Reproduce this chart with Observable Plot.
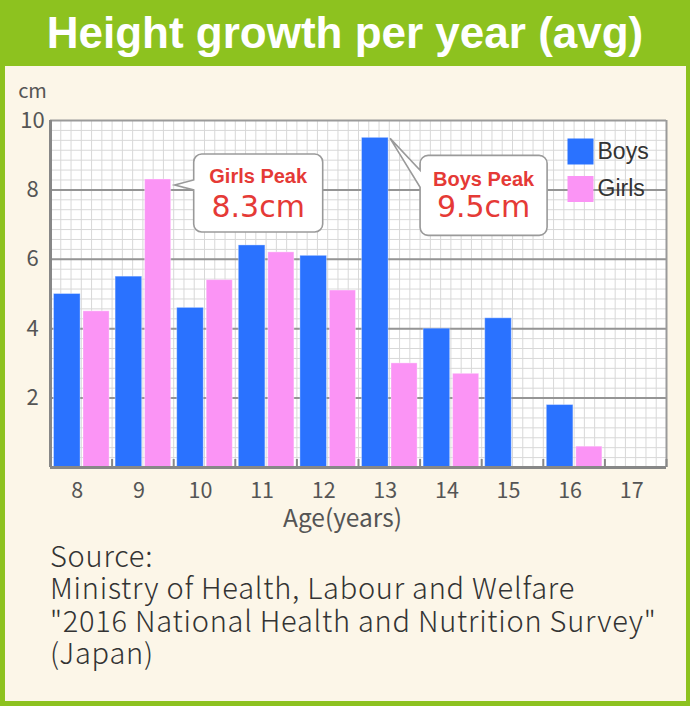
<!DOCTYPE html>
<html><head><meta charset="utf-8">
<script src="https://cdn.jsdelivr.net/npm/d3@7"></script>
<script src="https://cdn.jsdelivr.net/npm/@observablehq/plot@0.6"></script>
<style>
body{margin:0;}
#page{position:relative;width:690px;height:706px;background:#8dc21f;overflow:hidden;}
#title{position:absolute;left:0;top:8px;width:690px;height:66px;line-height:66px;text-align:center;color:#fff;font:bold 44px "Liberation Sans",Arial,sans-serif;white-space:nowrap;}
#panel{position:absolute;left:5px;top:66px;width:681px;height:635px;background:#fcf6e8;}
#chart{position:absolute;left:0;top:66px;}
#source{position:absolute;left:50px;top:538px;font-family:"Noto Sans CJK JP","Noto Sans",sans-serif;font-size:29px;font-weight:300;letter-spacing:0.75px;line-height:32.4px;color:#333;white-space:nowrap;}
</style></head>
<body>
<div id="page">
  <div id="panel"></div>
  <div id="title">Height growth per year (avg)</div>
  <div id="chart"></div>
  <div id="source">Source:<br>Ministry of Health, Labour and Welfare<br>"2016 National Health and Nutrition Survey"<br>(Japan)</div>
</div>
<script>
const ages = [8, 9, 10, 11, 12, 13, 14, 15, 16, 17];
const boys = [5.0, 5.5, 4.6, 6.4, 6.1, 9.5, 4.0, 4.3, 1.8, null];
const girls = [4.5, 8.3, 5.4, 6.2, 5.1, 3.0, 2.7, null, 0.6, null];
const yTicks = [2, 4, 6, 8, 10];
const seriesNames = ["Boys", "Girls"];
const colors = ["#2a72ff", "#fb94f5"];
const peakLabels = ["Boys Peak", "Girls Peak"];

const boysData = ages.map((a, i) => ({age: a, value: boys[i]})).filter(d => d.value != null);
const girlsData = ages.map((a, i) => ({age: a, value: girls[i]})).filter(d => d.value != null);
const boysPeak = boysData.reduce((a, b) => (b.value > a.value ? b : a));
const girlsPeak = girlsData.reduce((a, b) => (b.value > a.value ? b : a));

const boysInset = {left: 3.5, right: 31.5};
const girlsInset = {left: 33, right: 2.5};
const red = "#e53a36";
const minorY = d3.range(0, 10, 2 / 7);
const minorX = d3.range(ages[0] - 0.5, ages[ages.length - 1] + 0.5, 1 / 6);
const bounds = ages.map(a => a + 0.5);

function callout(peak, insetRight, title, o) {
  return (index, scales) => {
    const ax = scales.x(peak.age + 0.5) - insetRight;
    const ay = scales.y(peak.value);
    const L = ax + o.L, R = ax + o.R, T = ay + o.T, B = ay + o.B, r = 8;
    const p = `M${L},${T + r} A${r},${r} 0 0 1 ${L + r},${T} H${R - r} A${r},${r} 0 0 1 ${R},${T + r} V${B - r} A${r},${r} 0 0 1 ${R - r},${B} H${L + r} A${r},${r} 0 0 1 ${L},${B - r} V${ay + o.nb} L${ax + o.tx},${ay + o.ty} L${L},${ay + o.nt} Z`;
    const g = d3.create("svg:g");
    g.append("path").attr("d", p).attr("fill", "white").attr("stroke", "#9a9a9a").attr("stroke-width", 1.6);
    const cx = (L + R) / 2;
    g.append("text").attr("x", cx).attr("y", ay + o.t1).attr("text-anchor", "middle")
      .attr("font-family", "Liberation Sans, Arial, sans-serif").attr("font-weight", "bold").attr("font-size", 20).attr("fill", red).text(title);
    g.append("text").attr("x", cx).attr("y", ay + o.t2).attr("text-anchor", "middle")
      .attr("font-family", "DejaVu Sans, sans-serif").attr("font-size", 30).attr("fill", red).text(peak.value.toFixed(1) + "cm");
    return g.node();
  };
}

const legendMarks = seriesNames.flatMap((name, i) => [
  Plot.dot([name], {frameAnchor: "top-right", dx: -86, dy: 31 + i * 37.5, symbol: "square", r: 14.67, fill: colors[i], stroke: "none"}),
  Plot.text([name], {frameAnchor: "top-right", dx: -69, dy: 31 + i * 37.5, text: d => d, textAnchor: "start", lineAnchor: "middle", fontSize: 23, fill: "#333", fontFamily: "Liberation Sans, Arial, sans-serif"})
]);

const chart = Plot.plot({
  width: 690,
  height: 470,
  marginLeft: 50,
  marginRight: 24,
  marginTop: 54,
  marginBottom: 69,
  style: {background: "transparent", fontFamily: "'Noto Sans CJK JP', 'Noto Sans', sans-serif", overflow: "visible"},
  x: {type: "linear", domain: [ages[0] - 0.5, ages[ages.length - 1] + 0.5]},
  y: {domain: [0, 10]},
  marks: [
    Plot.frame({fill: "white", stroke: "none"}),
    Plot.ruleY(minorY, {stroke: "#d8d8d8", strokeWidth: 1}),
    Plot.ruleX(minorX, {stroke: "#d8d8d8", strokeWidth: 1}),
    Plot.ruleY(yTicks.filter(t => t < 10), {stroke: "#959595", strokeWidth: 2}),
    Plot.rectY(boysData, {x1: d => d.age - 0.5, x2: d => d.age + 0.5, y: "value", insetLeft: boysInset.left, insetRight: boysInset.right, fill: colors[0], stroke: "white", strokeOpacity: 0.35, strokeWidth: 1}),
    Plot.rectY(girlsData, {x1: d => d.age - 0.5, x2: d => d.age + 0.5, y: "value", insetLeft: girlsInset.left, insetRight: girlsInset.right, fill: colors[1], stroke: "white", strokeOpacity: 0.35, strokeWidth: 1}),
    Plot.ruleY([10], {stroke: "#9a9a9a", strokeWidth: 2}),
    Plot.ruleX([ages[ages.length - 1] + 0.5], {stroke: "#9a9a9a", strokeWidth: 2}),
    Plot.ruleX([ages[0] - 0.5], {stroke: "#878787", strokeWidth: 3}),
    Plot.ruleY([0], {stroke: "#878787", strokeWidth: 3}),
    Plot.ruleX(bounds, {y1: 0, y2: 0, insetTop: -8, stroke: "#878787", strokeWidth: 2}),
    Plot.axisX(ages, {tickSize: 0, tickPadding: 15, dx: -4, fontSize: 21.5, fill: "#555", label: null, tickFormat: d => String(d)}),
    Plot.axisY(yTicks, {tickSize: 0, tickPadding: 18, textAnchor: "middle", fontSize: 22, fill: "#555", label: null}),
    Plot.text(["cm"], {frameAnchor: "top-left", dx: -18, dy: -29, text: d => d, textAnchor: "middle", lineAnchor: "middle", fontSize: 20, fill: "#555"}),
    Plot.text(["Age(years)"], {frameAnchor: "bottom", dx: -16, dy: 52, text: d => d, textAnchor: "middle", lineAnchor: "middle", fontSize: 24.5, fill: "#555"}),
    ...legendMarks,
    callout(girlsPeak, girlsInset.right, peakLabels[1], {L: 23, R: 152, T: -25, B: 53, nt: 1, nb: 11, tx: 4, ty: 6, t1: 4, t2: 38}),
    callout(boysPeak, boysInset.right, peakLabels[0], {L: 32, R: 159, T: 18, B: 98, nt: 33, nb: 50, tx: 2, ty: 1, t1: 49, t2: 80})
  ]
});
document.getElementById("chart").appendChild(chart);
</script>
</body></html>
